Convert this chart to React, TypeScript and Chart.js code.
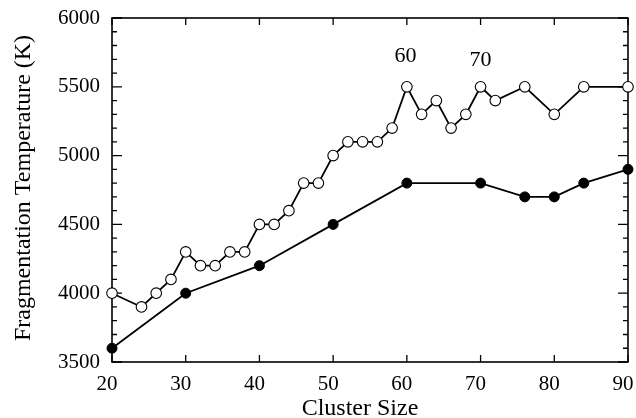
import { useEffect, useRef } from 'react';
import { Chart, registerables } from 'chart.js';

Chart.register(...registerables);

const openSizes = [20, 24, 26, 28, 30, 32, 34, 36, 38, 40, 42, 44, 46, 48, 50, 52, 54, 56, 58, 60, 62, 64, 66, 68, 70, 72, 76, 80, 84, 90];
const openTemps = [4000, 3900, 4000, 4100, 4300, 4200, 4200, 4300, 4300, 4500, 4500, 4600, 4800, 4800, 5000, 5100, 5100, 5100, 5200, 5500, 5300, 5400, 5200, 5300, 5500, 5400, 5500, 5300, 5500, 5500];
const filledSizes = [20, 30, 40, 50, 60, 70, 76, 80, 84, 90];
const filledTemps = [3600, 4000, 4200, 4500, 4800, 4800, 4700, 4700, 4800, 4900];
const xTickValues = [20, 30, 40, 50, 60, 70, 80, 90];
const yTickValues = [3500, 4000, 4500, 5000, 5500, 6000];
const yMinorStep = 100;
const annotationTexts = ['60', '70'];
const annotationXs = [59.8, 70];
const annotationYs = [5725, 5695];
const xTitle = 'Cluster Size';
const yTitle = 'Fragmentation Temperature (K)';

const FONT = '"Liberation Serif", "Times New Roman", serif';

const framePlugin = {
  id: 'frame',
  beforeDatasetsDraw(chart: any) {
    const { ctx, chartArea, scales } = chart;
    const { left, right, top, bottom } = chartArea;
    const x = scales.x;
    const y = scales.y;
    ctx.save();
    ctx.strokeStyle = '#000';
    ctx.lineWidth = 1.6;
    ctx.strokeRect(left, top, right - left, bottom - top);
    ctx.lineWidth = 1.3;
    ctx.beginPath();
    xTickValues.forEach((v) => {
      const px = x.getPixelForValue(v);
      ctx.moveTo(px, bottom);
      ctx.lineTo(px, bottom - 7);
      ctx.moveTo(px, top);
      ctx.lineTo(px, top + 7);
    });
    const yMin = yTickValues[0];
    const yMax = yTickValues[yTickValues.length - 1];
    for (let v = yMin; v <= yMax; v += yMinorStep) {
      const py = y.getPixelForValue(v);
      const len = yTickValues.includes(v) ? 10 : 5;
      ctx.moveTo(left, py);
      ctx.lineTo(left + len, py);
      ctx.moveTo(right, py);
      ctx.lineTo(right - len, py);
    }
    ctx.stroke();
    ctx.restore();
  },
  afterDraw(chart: any) {
    const { ctx, scales, chartArea } = chart;
    const { left, right, top, bottom } = chartArea;
    ctx.save();
    ctx.fillStyle = '#000';
    ctx.font = `22px ${FONT}`;
    ctx.textAlign = 'center';
    ctx.textBaseline = 'middle';
    annotationTexts.forEach((t, i) => {
      ctx.fillText(t, scales.x.getPixelForValue(annotationXs[i]), scales.y.getPixelForValue(annotationYs[i]));
    });
    ctx.font = `24px ${FONT}`;
    ctx.textBaseline = 'alphabetic';
    ctx.fillText(xTitle, (left + right) / 2 - 10, 415);
    ctx.translate(24, (top + bottom) / 2 - 2);
    ctx.rotate(-Math.PI / 2);
    ctx.textBaseline = 'middle';
    ctx.fillText(yTitle, 0, 0);
    ctx.restore();
  },
};

export default function App() {
  const ref = useRef<HTMLCanvasElement>(null);
  useEffect(() => {
    if (!ref.current) return;
    const chart = new Chart(ref.current, {
      type: 'line',
      data: {
        datasets: [
          {
            label: 'filled',
            data: filledSizes.map((s, i) => ({ x: s, y: filledTemps[i] })),
            borderColor: '#000',
            borderWidth: 1.8,
            backgroundColor: '#000',
            pointBackgroundColor: '#000',
            pointBorderColor: '#000',
            pointRadius: 5,
            pointBorderWidth: 1,
            clip: false as any,
          },
          {
            label: 'open',
            data: openSizes.map((s, i) => ({ x: s, y: openTemps[i] })),
            borderColor: '#000',
            borderWidth: 1.8,
            backgroundColor: '#fff',
            pointBackgroundColor: '#fff',
            pointBorderColor: '#000',
            pointRadius: 5.3,
            pointBorderWidth: 1.1,
            clip: false as any,
          },
        ],
      },
      options: {
        animation: false,
        responsive: false,
        devicePixelRatio: 1,
        layout: { padding: { top: 18, right: 8, left: 0, bottom: 0 } },
        plugins: { legend: { display: false }, tooltip: { enabled: false } },
        scales: {
          x: {
            type: 'linear',
            min: 20,
            max: 90,
            afterFit: (s: any) => {
              s.height = 56;
              s.paddingLeft = 0;
              s.paddingRight = 0;
            },
            afterBuildTicks: (s: any) => {
              s.ticks = xTickValues.map((v) => ({ value: v }));
            },
            grid: { display: false, drawTicks: false },
            border: { display: false },
            ticks: {
              padding: 10,
              labelOffset: -5,
              color: '#000',
              font: { family: FONT, size: 21 },
              maxRotation: 0,
              autoSkip: false,
              callback: (v: any) => String(v),
            },
            title: { display: false },
          },
          y: {
            type: 'linear',
            min: 3500,
            max: 6000,
            afterFit: (s: any) => {
              s.width = 112;
              s.paddingTop = 0;
              s.paddingBottom = 0;
            },
            afterBuildTicks: (s: any) => {
              s.ticks = yTickValues.map((v) => ({ value: v }));
            },
            grid: { display: false, drawTicks: false },
            border: { display: false },
            ticks: {
              padding: 12,
              color: '#000',
              font: { family: FONT, size: 21 },
              autoSkip: false,
              callback: (v: any) => String(v),
            },
            title: { display: false },
          },
        },
      },
      plugins: [framePlugin],
    });
    return () => chart.destroy();
  }, []);
  return (
    <div style={{ position: 'fixed', left: 0, top: 0, width: 636, height: 418, background: '#fff' }}>
      <canvas ref={ref} width={636} height={418} style={{ width: 636, height: 418 }} />
    </div>
  );
}
